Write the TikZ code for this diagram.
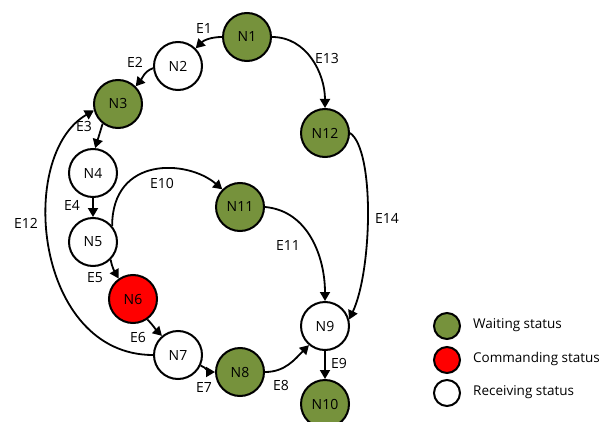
\documentclass[tikz,border=0pt]{standalone}
\usepackage{fontspec}
\setmainfont{Open Sans}
\usetikzlibrary{arrows.meta}
\definecolor{wait}{RGB}{118,146,60}
\tikzset{
  st/.style={circle,draw=black,line width=2pt,minimum size=48pt,inner sep=0pt,font=\fontsize{14}{16}\selectfont},
  waitst/.style={st,fill=wait},
  cmdst/.style={st,fill=red},
  recst/.style={st,fill=white},
  edge/.style={line width=1.8pt,-{Triangle[length=9pt,width=10pt]}},
  lab/.style={font=\fontsize{14}{16}\selectfont,inner sep=0pt},
  leg/.style={circle,draw=black,line width=2pt,minimum size=26pt,inner sep=0pt},
  legtxt/.style={anchor=west,font=\fontsize{13.5}{16}\selectfont,inner sep=0pt}
}
\begin{document}
\begin{tikzpicture}[x=1pt,y=-1pt]
\useasboundingbox (0,0) rectangle (612,422);
\node[waitst] (n1) at (247,37) {N1};
\node[recst] (n2) at (178,66) {N2};
\node[waitst] (n3) at (118,104) {N3};
\node[recst] (n4) at (93,173) {N4};
\node[recst] (n5) at (93,242) {N5};
\node[cmdst] (n6) at (133,299) {N6};
\node[recst] (n7) at (178,355) {N7};
\node[waitst] (n8) at (240,372) {N8};
\node[recst] (n9) at (325,326) {N9};
\node[waitst] (n10) at (325,404) {N10};
\node[waitst] (n11) at (240,207) {N11};
\node[waitst] (n12) at (325,133) {N12};

\draw[edge] (n1.west) to[out=180,in=45] (n2.45);
\draw[edge] (n2.185) to[out=200,in=50] (n3.45);
\draw[edge] (n3.-128) -- (n4.85);
\draw[edge] (n4) -- (n5);
\draw[edge] (n5.-45) to[out=-80,in=120] (n6.125);
\draw[edge] (n6.-55) to[out=-45,in=135] (n7.130);
\draw[edge] (n7.-25) to[out=-20,in=180] (n8.west);
\draw[edge] (n8.east) to[out=0,in=-135] (n9.-130);
\draw[edge] (n9) -- (n10);
\draw[edge] (n5.40) .. controls +(0,-70) and +(-35,-30) .. (n11.135);
\draw[edge] (n11.east) to[out=-5,in=90] (n9.north);
\draw[edge] (n7.west) .. controls +(-118,0) and +(-78,45) .. (n3.195);
\draw[edge] (n1.east) to[out=0,in=90] (n12.north);
\draw[edge] (n12.east) .. controls +(25,17) and +(23,-49) .. (n9.15);

\node[lab] (e1) at (204,29) {E1};
\node[lab] (e2) at (135,62) {E2};
\node[lab] (e3) at (84,126) {E3};
\node[lab] (e4) at (72,205) {E4};
\node[lab] (e5) at (95,278) {E5};
\node[lab] (e6) at (138,337) {E6};
\node[lab] (e7) at (204,387) {E7};
\node[lab] (e8) at (281,385) {E8};
\node[lab] (e9) at (339,363) {E9};
\node[lab] (e10) at (162,183) {E10};
\node[lab] (e11) at (288,246) {E11};
\node[lab] (e12) at (26,223) {E12};
\node[lab] (e13) at (327,59) {E13};
\node[lab] (e14) at (387,218) {E14};

\node[leg,fill=wait] (l1) at (447,326) {};
\node[leg,fill=red] (l2) at (447,360) {};
\node[leg,fill=white] (l3) at (447,393) {};
\node[legtxt] (t1) at (473,325) {Waiting status};
\node[legtxt] (t2) at (473,359) {Commanding status};
\node[legtxt] (t3) at (473,392) {Receiving status};
\end{tikzpicture}
\end{document}
